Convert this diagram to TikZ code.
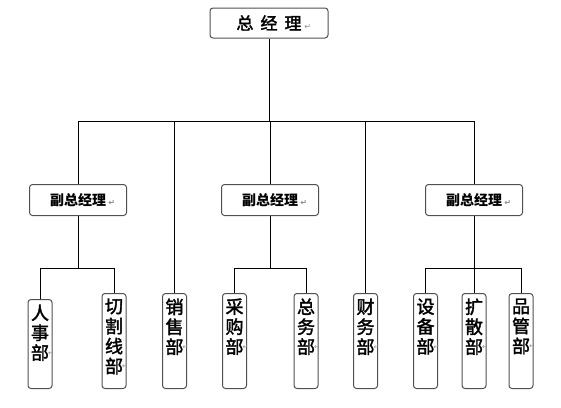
\documentclass[tikz,border=0pt]{standalone}
\usepackage{fontspec}
\setmainfont{Liberation Serif}
\newfontfamily\cjk{Noto Sans CJK SC}
\newfontfamily\cjkmid{Noto Sans CJK SC}[FakeBold=2]
\newfontfamily\dejavu{DejaVu Sans}
\usetikzlibrary{positioning}
\definecolor{boxgray}{HTML}{505050}
\definecolor{markgray}{HTML}{8A8A8A}

% paragraph mark after a text, not counted in its width
\newcommand{\pmark}{\rlap{\,\textcolor{markgray}{\dejavu\fontsize{8pt}{8pt}\selectfont ↵}}}
% same mark, sitting on the right border of a department box
\newcommand{\dmark}{\rlap{\kern-1pt\raisebox{4pt}{\textcolor{markgray}{\dejavu\fontsize{7pt}{7pt}\selectfont ↵}}}}
% top-aligned vertical text in a department box
\newcommand{\vlabel}[2]{\parbox[c][#1][t]{24pt}{\centering\vspace*{5pt}#2}}

\begin{document}
\begin{tikzpicture}[x=1pt, y=-1pt,
    every node/.style={font=\cjk},
    gmbox/.style={draw=boxgray, line width=1pt, rectangle, rounded corners=3pt,
                  minimum width=118pt, minimum height=30pt, inner sep=0pt,
                  font=\cjkmid\fontsize{17pt}{17pt}\selectfont},
    vpbox/.style={draw=boxgray, line width=1pt, rectangle, rounded corners=3pt,
                  minimum width=97pt, minimum height=31pt, inner sep=0pt,
                  font=\cjk\bfseries\fontsize{14pt}{14pt}\selectfont},
    deptbox/.style={draw=boxgray, line width=1pt, rectangle, rounded corners=3pt,
                    inner sep=0pt, anchor=north,
                    font=\cjkmid\fontsize{18pt}{20pt}\selectfont},
    conn/.style={draw=black, line width=0.8pt}
]
\useasboundingbox (0,0) rectangle (561,407);

% --- top and deputies ---
\node[gmbox] (gm)  at (269,23)  {总\hspace{7pt}经\hspace{7pt}理\pmark};
\node[vpbox] (vp1) at (78,200)  {副总经理\pmark};
\node[vpbox] (vp2) at (270,200) {副总经理\pmark};
\node[vpbox] (vp3) at (474,200) {副总经理\pmark};

% --- departments ---
\node[deptbox] (rsb) at (40,299)    {\vlabel{89pt}{人\\事\\部\dmark}};
\node[deptbox] (qgx) at (114,293)   {\vlabel{95pt}{切\\割\\线\\部\dmark}};
\node[deptbox] (xsb) at (174.5,293) {\vlabel{95pt}{销\\售\\部\dmark}};
\node[deptbox] (cgb) at (234.5,293) {\vlabel{95pt}{采\\购\\部\dmark}};
\node[deptbox] (zwb) at (306,293)   {\vlabel{95pt}{总\\务\\部\dmark}};
\node[deptbox] (cwb) at (365.5,293) {\vlabel{95pt}{财\\务\\部\dmark}};
\node[deptbox] (sbb) at (425.5,293) {\vlabel{95pt}{设\\备\\部\dmark}};
\node[deptbox] (ksb) at (474,293)   {\vlabel{95pt}{扩\\散\\部\dmark}};
\node[deptbox] (pgb) at (521,293)   {\vlabel{95pt}{品\\管\\部\dmark}};

% --- junction points ---
\coordinate (bus) at (269,121);
\coordinate (j1)  at (78,268);
\coordinate (j2)  at (270,268);
\coordinate (j3)  at (474,268);

% --- connectors ---
\draw[conn] (gm.south) -- (bus);
\draw[conn] (vp1.north) |- (bus);
\draw[conn] (vp3.north) |- (bus);
\draw[conn] (vp2.north) -- (vp2.north |- bus);
\draw[conn] (xsb.north) -- (xsb.north |- bus);
\draw[conn] (cwb.north) -- (cwb.north |- bus);

\draw[conn] (vp1.south) -- (j1);
\draw[conn] (rsb.north) |- (j1);
\draw[conn] (qgx.north) |- (j1);

\draw[conn] (vp2.south) -- (j2);
\draw[conn] (cgb.north) |- (j2);
\draw[conn] (zwb.north) |- (j2);

\draw[conn] (vp3.south) -- (ksb.north);
\draw[conn] (sbb.north) |- (j3);
\draw[conn] (pgb.north) |- (j3);

\end{tikzpicture}
\end{document}
